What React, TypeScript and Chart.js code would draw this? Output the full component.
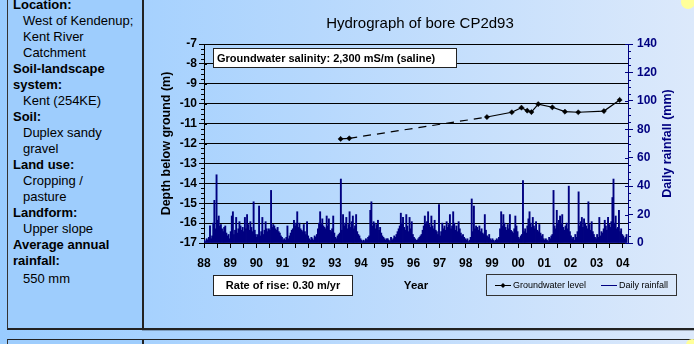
import React, { useEffect, useRef } from 'react';
import { Chart, registerables } from 'chart.js';

Chart.register(...registerables);

// ---------- DATA ----------
const yearTicks = [1988, 1989, 1990, 1991, 1992, 1993, 1994, 1995, 1996, 1997, 1998, 1999, 2000, 2001, 2002, 2003, 2004];
const depthTicks = [-17, -16, -15, -14, -13, -12, -11, -10, -9, -8, -7];
const rainTicks = [0, 20, 40, 60, 80, 100, 120, 140];

// groundwater level observations (decimal year, depth m)
const gwDates = [1993.22, 1993.55, 1998.81, 1999.76, 2000.13, 2000.35, 2000.51, 2000.77, 2001.31, 2001.79, 2002.30, 2003.28, 2003.88];
const gwLevels = [-11.77, -11.74, -10.67, -10.43, -10.20, -10.35, -10.42, -10.02, -10.18, -10.40, -10.43, -10.37, -9.81];

// rainfall (mm), half-month samples, per year
const rain1988 = [2, 1, 3, 2, 4, 12, 3, 5, 14, 30, 10, 48, 16, 19, 12, 13, 10, 8, 11, 12, 7, 5, 6, 3];
const rain1989 = [8, 19, 22, 6, 9, 18, 7, 10, 15, 12, 9, 11, 8, 18, 10, 20, 13, 9, 15, 11, 8, 29, 9, 6];
const rain1990 = [4, 6, 26, 5, 8, 18, 6, 9, 15, 10, 8, 10, 9, 37, 11, 13, 12, 10, 9, 11, 8, 7, 5, 4];
const rain1991 = [2, 3, 2, 4, 12, 3, 5, 7, 9, 10, 16, 12, 14, 22, 11, 14, 10, 9, 8, 13, 8, 6, 15, 5];
const rain1992 = [3, 2, 4, 3, 2, 5, 4, 6, 10, 14, 22, 13, 17, 12, 11, 10, 19, 12, 17, 9, 8, 10, 19, 7];
const rain1993 = [4, 3, 5, 6, 7, 45, 9, 20, 12, 14, 18, 10, 13, 22, 11, 15, 19, 10, 12, 20, 8, 6, 5, 3];
const rain1994 = [2, 1, 2, 1, 3, 2, 4, 5, 23, 29, 12, 15, 14, 10, 13, 16, 9, 11, 7, 5, 4, 3, 2, 3];
const rain1995 = [3, 2, 1, 4, 2, 3, 5, 4, 6, 8, 10, 12, 21, 14, 18, 11, 9, 20, 12, 8, 18, 10, 15, 6];
const rain1996 = [4, 3, 2, 2, 3, 4, 5, 6, 9, 12, 19, 14, 15, 22, 13, 11, 19, 12, 10, 16, 9, 8, 6, 27];
const rain1997 = [5, 8, 14, 10, 12, 9, 15, 11, 13, 20, 10, 12, 22, 14, 9, 12, 8, 15, 10, 7, 5, 6, 4, 3];
const rain1998 = [2, 3, 1, 2, 4, 31, 8, 26, 10, 12, 11, 9, 12, 8, 10, 7, 6, 20, 9, 5, 4, 6, 3, 2];
const rain1999 = [3, 2, 1, 2, 3, 2, 4, 10, 22, 12, 20, 14, 11, 9, 13, 10, 20, 9, 8, 7, 10, 19, 12, 8];
const rain2000 = [4, 3, 5, 6, 44, 8, 10, 7, 12, 17, 22, 14, 11, 18, 12, 10, 15, 9, 8, 13, 7, 5, 6, 3];
const rain2001 = [2, 3, 2, 1, 4, 3, 5, 6, 37, 12, 10, 23, 14, 16, 19, 13, 20, 11, 9, 12, 14, 10, 40, 8];
const rain2002 = [5, 3, 4, 2, 6, 4, 8, 36, 12, 15, 18, 11, 17, 14, 12, 10, 29, 13, 9, 15, 8, 6, 4, 3];
const rain2003 = [6, 4, 18, 5, 8, 7, 10, 16, 12, 9, 18, 13, 11, 15, 32, 45, 14, 19, 10, 11, 23, 8, 10, 6];
const rain2004 = [5, 3, 4, 6];

const rainByYear = [rain1988, rain1989, rain1990, rain1991, rain1992, rain1993, rain1994, rain1995, rain1996, rain1997, rain1998, rain1999, rain2000, rain2001, rain2002, rain2003, rain2004];

const titleText = 'Hydrograph of bore CP2d93';
const leftAxisTitle = 'Depth below ground (m)';
const rightAxisTitle = 'Daily rainfall (mm)';
const xAxisTitle = 'Year';
const salinityText = 'Groundwater salinity: 2,300 mS/m (saline)';
const rateText = 'Rate of rise: 0.30 m/yr';
const legendGw = 'Groundwater level';
const legendRain = 'Daily rainfall';

const FONT = "'Liberation Sans', Arial, Helvetica, sans-serif";
const NAVY = '#000080';

const infoLines: { text: string; bold: boolean; extra?: number }[] = [
  { text: 'Location:', bold: true },
  { text: 'West of Kendenup;', bold: false },
  { text: 'Kent River', bold: false },
  { text: 'Catchment', bold: false },
  { text: 'Soil-landscape', bold: true },
  { text: 'system:', bold: true },
  { text: 'Kent (254KE)', bold: false },
  { text: 'Soil:', bold: true },
  { text: 'Duplex sandy', bold: false },
  { text: 'gravel', bold: false },
  { text: 'Land use:', bold: true },
  { text: 'Cropping /', bold: false },
  { text: 'pasture', bold: false },
  { text: 'Landform:', bold: true },
  { text: 'Upper slope', bold: false },
  { text: 'Average annual', bold: true },
  { text: 'rainfall:', bold: true },
  { text: '550 mm', bold: false, extra: 2 },
];

const decorPlugin = {
  id: 'decor',
  afterDraw(chart: any) {
    const ctx: CanvasRenderingContext2D = chart.ctx;
    const { left, right, top, bottom } = chart.chartArea;
    const yS = chart.scales.y;
    const rS = chart.scales.y1;
    ctx.save();

    // minor / crossing ticks on left axis
    ctx.lineWidth = 1;
    ctx.strokeStyle = '#000';
    ctx.beginPath();
    for (let k = 0; k <= 40; k++) {
      const v = -17 + k * 0.25;
      const y = Math.round(yS.getPixelForValue(v)) + 0.5;
      if (k % 4 === 0) {
        ctx.moveTo(left, y);
        ctx.lineTo(left + 3, y);
      } else {
        ctx.moveTo(left - 3, y);
        ctx.lineTo(left, y);
      }
    }
    ctx.stroke();

    // minor / crossing ticks on right axis
    ctx.strokeStyle = NAVY;
    ctx.beginPath();
    for (let k = 0; k <= 28; k++) {
      const v = k * 5;
      const y = Math.round(rS.getPixelForValue(v)) + 0.5;
      if (k % 4 === 0) {
        ctx.moveTo(right - 3, y);
        ctx.lineTo(right, y);
      } else {
        ctx.moveTo(right, y);
        ctx.lineTo(right + 3, y);
      }
    }
    ctx.stroke();

    // title
    ctx.fillStyle = '#000';
    ctx.font = `15px ${FONT}`;
    ctx.textAlign = 'center';
    ctx.textBaseline = 'middle';
    ctx.fillText(titleText, 420, 24);

    // axis titles
    const midY = (top + bottom) / 2;
    ctx.font = `bold 12.5px ${FONT}`;
    ctx.save();
    ctx.translate(167, midY);
    ctx.rotate(-Math.PI / 2);
    ctx.fillStyle = '#000';
    ctx.fillText(leftAxisTitle, 0, 0);
    ctx.restore();
    ctx.save();
    ctx.translate(668, midY);
    ctx.rotate(-Math.PI / 2);
    ctx.fillStyle = NAVY;
    ctx.fillText(rightAxisTitle, 0, 0);
    ctx.restore();

    ctx.fillStyle = '#000';
    ctx.font = `bold 11.5px ${FONT}`;
    ctx.fillText(xAxisTitle, (left + right) / 2, 286);

    // salinity box
    ctx.fillStyle = '#fff';
    ctx.strokeStyle = '#222';
    ctx.lineWidth = 1;
    ctx.fillRect(213.5, 48.5, 243, 19);
    ctx.strokeRect(213.5, 48.5, 243, 19);
    ctx.fillStyle = '#000';
    ctx.font = `bold 11px ${FONT}`;
    ctx.textAlign = 'left';
    ctx.fillText(salinityText, 217, 58.5);

    // rate box
    ctx.fillStyle = '#fff';
    ctx.fillRect(213.5, 275.5, 139, 20);
    ctx.strokeRect(213.5, 275.5, 139, 20);
    ctx.fillStyle = '#000';
    ctx.textAlign = 'center';
    ctx.fillText(rateText, 283, 286);

    // legend box
    ctx.strokeStyle = '#333';
    ctx.strokeRect(486.5, 274.5, 190, 21);
    ctx.beginPath();
    ctx.strokeStyle = '#000';
    ctx.moveTo(495, 285.5);
    ctx.lineTo(511, 285.5);
    ctx.stroke();
    ctx.fillStyle = '#000';
    ctx.beginPath();
    ctx.moveTo(503, 283);
    ctx.lineTo(505.5, 285.5);
    ctx.lineTo(503, 288);
    ctx.lineTo(500.5, 285.5);
    ctx.closePath();
    ctx.fill();
    ctx.beginPath();
    ctx.strokeStyle = NAVY;
    ctx.moveTo(601, 285.5);
    ctx.lineTo(617, 285.5);
    ctx.stroke();
    ctx.font = `9px ${FONT}`;
    ctx.textAlign = 'left';
    ctx.fillStyle = '#000';
    ctx.fillText(legendGw, 513, 286);
    ctx.fillText(legendRain, 619, 286);

    ctx.restore();
  },
};

export default function App() {
  const ref = useRef<HTMLCanvasElement | null>(null);

  useEffect(() => {
    document.body.style.margin = '0';
    document.body.style.overflow = 'hidden';
    const canvas = ref.current;
    if (!canvas) return;

    const rainPoints: { x: number; y: number }[] = [];
    rainByYear.forEach((arr, yi) => {
      arr.forEach((v, i) => {
        rainPoints.push({ x: yearTicks[yi] + (i + 0.5) / 24, y: v });
      });
    });
    const gwPoints = gwDates.map((d, i) => ({ x: d, y: gwLevels[i] }));
    const xTicks: number[] = [];
    yearTicks.forEach((y) => {
      xTicks.push(y);
      if (y < 2004) xTicks.push(y + 0.5);
    });

    const chart = new Chart(canvas, {
      type: 'line',
      data: {
        datasets: [
          {
            type: 'line',
            label: legendGw,
            data: gwPoints,
            yAxisID: 'y',
            xAxisID: 'x',
            borderColor: '#000',
            borderWidth: 1.2,
            pointStyle: 'rectRot',
            pointRadius: 2.6,
            pointBackgroundColor: '#000',
            pointBorderColor: '#000',
            pointBorderWidth: 0.5,
            tension: 0,
            fill: false,
            order: 0,
            segment: {
              borderDash: (c: any) => (c.p0DataIndex === 1 ? [8, 6] : undefined),
            },
          } as any,
          {
            type: 'bar',
            label: legendRain,
            data: rainPoints,
            yAxisID: 'y1',
            xAxisID: 'x',
            backgroundColor: NAVY,
            borderWidth: 0,
            barThickness: 1.25,
            grouped: false,
            order: 1,
          } as any,
        ],
      },
      options: {
        animation: false,
        responsive: false,
        devicePixelRatio: 1,
        layout: { padding: { left: 143, right: 0, top: 44, bottom: 71 } },
        plugins: {
          legend: { display: false },
          tooltip: { enabled: false },
          title: { display: false },
        },
        font: { family: FONT },
        scales: {
          x: {
            type: 'linear',
            min: 1988,
            max: 2004.2,
            offset: false,
            afterBuildTicks: (s: any) => {
              s.ticks = xTicks.map((v) => ({ value: v }));
            },
            afterFit: (s: any) => {
              s.height = 30;
            },
            ticks: {
              autoSkip: false,
              maxRotation: 0,
              color: '#000',
              padding: 8,
              font: { family: FONT, size: 12, weight: 'bold' },
              callback: (v: any) => (Number.isInteger(v) ? String(v % 100).padStart(2, '0') : ''),
            },
            grid: { drawOnChartArea: false, drawTicks: true, tickLength: 5, color: '#000', offset: false },
            border: { display: true, color: '#000', width: 1 },
          },
          y: {
            type: 'linear',
            position: 'left',
            min: -17,
            max: -7,
            afterBuildTicks: (s: any) => {
              s.ticks = depthTicks.map((v) => ({ value: v }));
            },
            afterFit: (s: any) => {
              s.width = 61;
            },
            ticks: {
              color: '#000',
              padding: 2,
              font: { family: FONT, size: 12, weight: 'bold' },
              callback: (v: any) => String(v),
            },
            grid: { color: '#000', lineWidth: 1, tickLength: 5, drawTicks: true },
            border: { display: true, color: '#000', width: 1 },
          },
          y1: {
            type: 'linear',
            position: 'right',
            min: 0,
            max: 140,
            afterBuildTicks: (s: any) => {
              s.ticks = rainTicks.map((v) => ({ value: v }));
            },
            afterFit: (s: any) => {
              s.width = 66;
            },
            ticks: {
              color: NAVY,
              padding: 4,
              font: { family: FONT, size: 12, weight: 'bold' },
              callback: (v: any) => String(v),
            },
            grid: { drawOnChartArea: false, color: NAVY, tickLength: 5, drawTicks: true },
            border: { display: true, color: NAVY, width: 1 },
          },
        },
      } as any,
      plugins: [decorPlugin as any],
    });
    return () => chart.destroy();
  }, []);

  return (
    <div
      style={{
        position: 'relative',
        width: 694,
        height: 344,
        overflow: 'hidden',
        background: 'linear-gradient(to right, #99ccff 0%, #b6d8fd 45%, #dce9fb 100%)',
        fontFamily: FONT,
      }}
    >
      {/* left info panel */}
      <div
        style={{
          position: 'absolute',
          left: 7,
          top: -4,
          width: 134,
          height: 332,
          background: '#9ecdfd',
          borderLeft: '1px solid #333',
          borderRight: '2px solid #222',
          borderBottom: '2px solid #222',
        }}
      />
      <div style={{ position: 'absolute', left: 7, top: -3, width: 135, color: '#000' }}>
        {infoLines.map((l, i) => (
          <div
            key={i}
            style={{
              fontSize: 13,
              lineHeight: '16px',
              height: 16,
              whiteSpace: 'nowrap',
              fontWeight: l.bold ? 'bold' : 'normal',
              paddingLeft: l.bold ? 6 : 16,
              marginTop: l.extra || 0,
            }}
          >
            {l.text}
          </div>
        ))}
      </div>
      {/* right panel bottom border */}
      <div style={{ position: 'absolute', left: 142, top: 328, width: 552, height: 2, background: '#222' }} />
      <div style={{ position: 'absolute', left: 142, top: 330, width: 552, height: 1, background: 'rgba(0,0,0,0.25)' }} />
      {/* next panel (cut off) */}
      <div
        style={{
          position: 'absolute',
          left: 7,
          top: 339,
          width: 134,
          height: 20,
          background: '#9ecdfd',
          borderLeft: '1px solid #333',
          borderTop: '1px solid #222',
          borderRight: '2px solid #222',
        }}
      />
      <div style={{ position: 'absolute', left: 142, top: 339, width: 552, height: 1, background: '#222' }} />
      {/* decorative yellow dots */}
      <div
        style={{
          position: 'absolute',
          left: 681,
          top: -5,
          width: 14,
          height: 14,
          borderRadius: '50%',
          background: '#ffff99',
        }}
      />
      <div
        style={{
          position: 'absolute',
          left: 686,
          top: 339,
          width: 12,
          height: 12,
          borderRadius: '50%',
          background: '#ffff99',
        }}
      />
      <canvas
        ref={ref}
        width={694}
        height={344}
        style={{ position: 'absolute', left: 0, top: 0, width: 694, height: 344 }}
      />
    </div>
  );
}
